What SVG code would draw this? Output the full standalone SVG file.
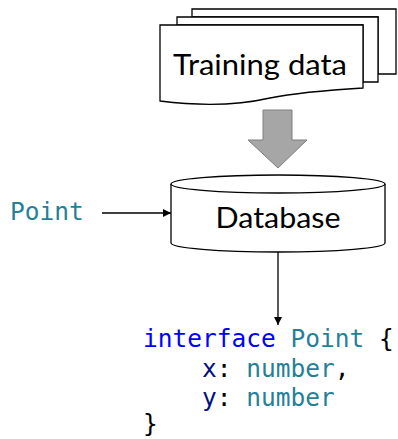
<svg xmlns="http://www.w3.org/2000/svg" width="398" height="439" viewBox="0 0 398 439">
  <defs>
    <marker id="arrow" viewBox="0 0 10 10" refX="10" refY="5" markerWidth="8" markerHeight="8" markerUnits="userSpaceOnUse" orient="auto">
      <path d="M0,0 L10,5 L0,10 z" fill="#000"/>
    </marker>
    <style>
      .shape { fill: #fff; stroke: #000; stroke-width: 1.3; }
      .label { font-family: Lato, "Liberation Sans", Arial, sans-serif; font-size: 29px; fill: #000; }
      .code { font-family: "DejaVu Sans Mono", "Liberation Mono", monospace; font-size: 24.5px; }
      .kw { fill: #0000ff; }
      .type { fill: #267f99; }
      .prop { fill: #001080; }
      .punct { fill: #000; }
      .conn { stroke: #000; stroke-width: 1.3; fill: none; }
    </style>
  </defs>

  <!-- stacked documents -->
  <g id="training-data">
    <path class="shape" d="M192,9 H396 V74 H378 V17 H192 Z"/>
    <path class="shape" d="M177,17 H378 V82 H363 V25 H177 Z"/>
    <path class="shape" d="M160,25 H363 V88 C330,90 300,92 270,98 C235,106 200,106 160,101 Z"/>
    <text class="label" x="260" y="75" text-anchor="middle" textLength="174" lengthAdjust="spacingAndGlyphs">Training data</text>
  </g>

  <!-- block arrow -->
  <g id="flow-arrow">
    <path d="M263,110 H292 V140 H307 L278,168 L248,140 H263 Z" fill="#a6a6a6" stroke="#7f7f7f" stroke-width="1"/>
  </g>

  <!-- cylinder -->
  <g id="database">
    <path class="shape" d="M171,184 V243 A107,9 0 0 0 385,243 V184"/>
    <ellipse class="shape" cx="278" cy="184" rx="107" ry="9"/>
    <text class="label" x="278" y="228" text-anchor="middle" textLength="125" lengthAdjust="spacingAndGlyphs">Database</text>
  </g>

  <g id="point-input">
    <text class="code type" x="10" y="220">Point</text>
  </g>

  <g id="code-output">
    <text class="code" x="143" y="347"><tspan class="kw">interface</tspan><tspan class="punct"> </tspan><tspan class="type">Point</tspan><tspan class="punct"> {</tspan></text>
    <text class="code" x="202" y="377"><tspan class="prop">x</tspan><tspan class="punct">: </tspan><tspan class="type">number</tspan><tspan class="punct">,</tspan></text>
    <text class="code" x="202" y="406"><tspan class="prop">y</tspan><tspan class="punct">: </tspan><tspan class="type">number</tspan></text>
    <text class="code punct" x="143" y="432">}</text>
  </g>

  <g id="connectors">
    <line class="conn" x1="102" y1="213" x2="171" y2="213" marker-end="url(#arrow)"/>
    <line class="conn" x1="278" y1="252" x2="278" y2="325" marker-end="url(#arrow)"/>
  </g>
</svg>
